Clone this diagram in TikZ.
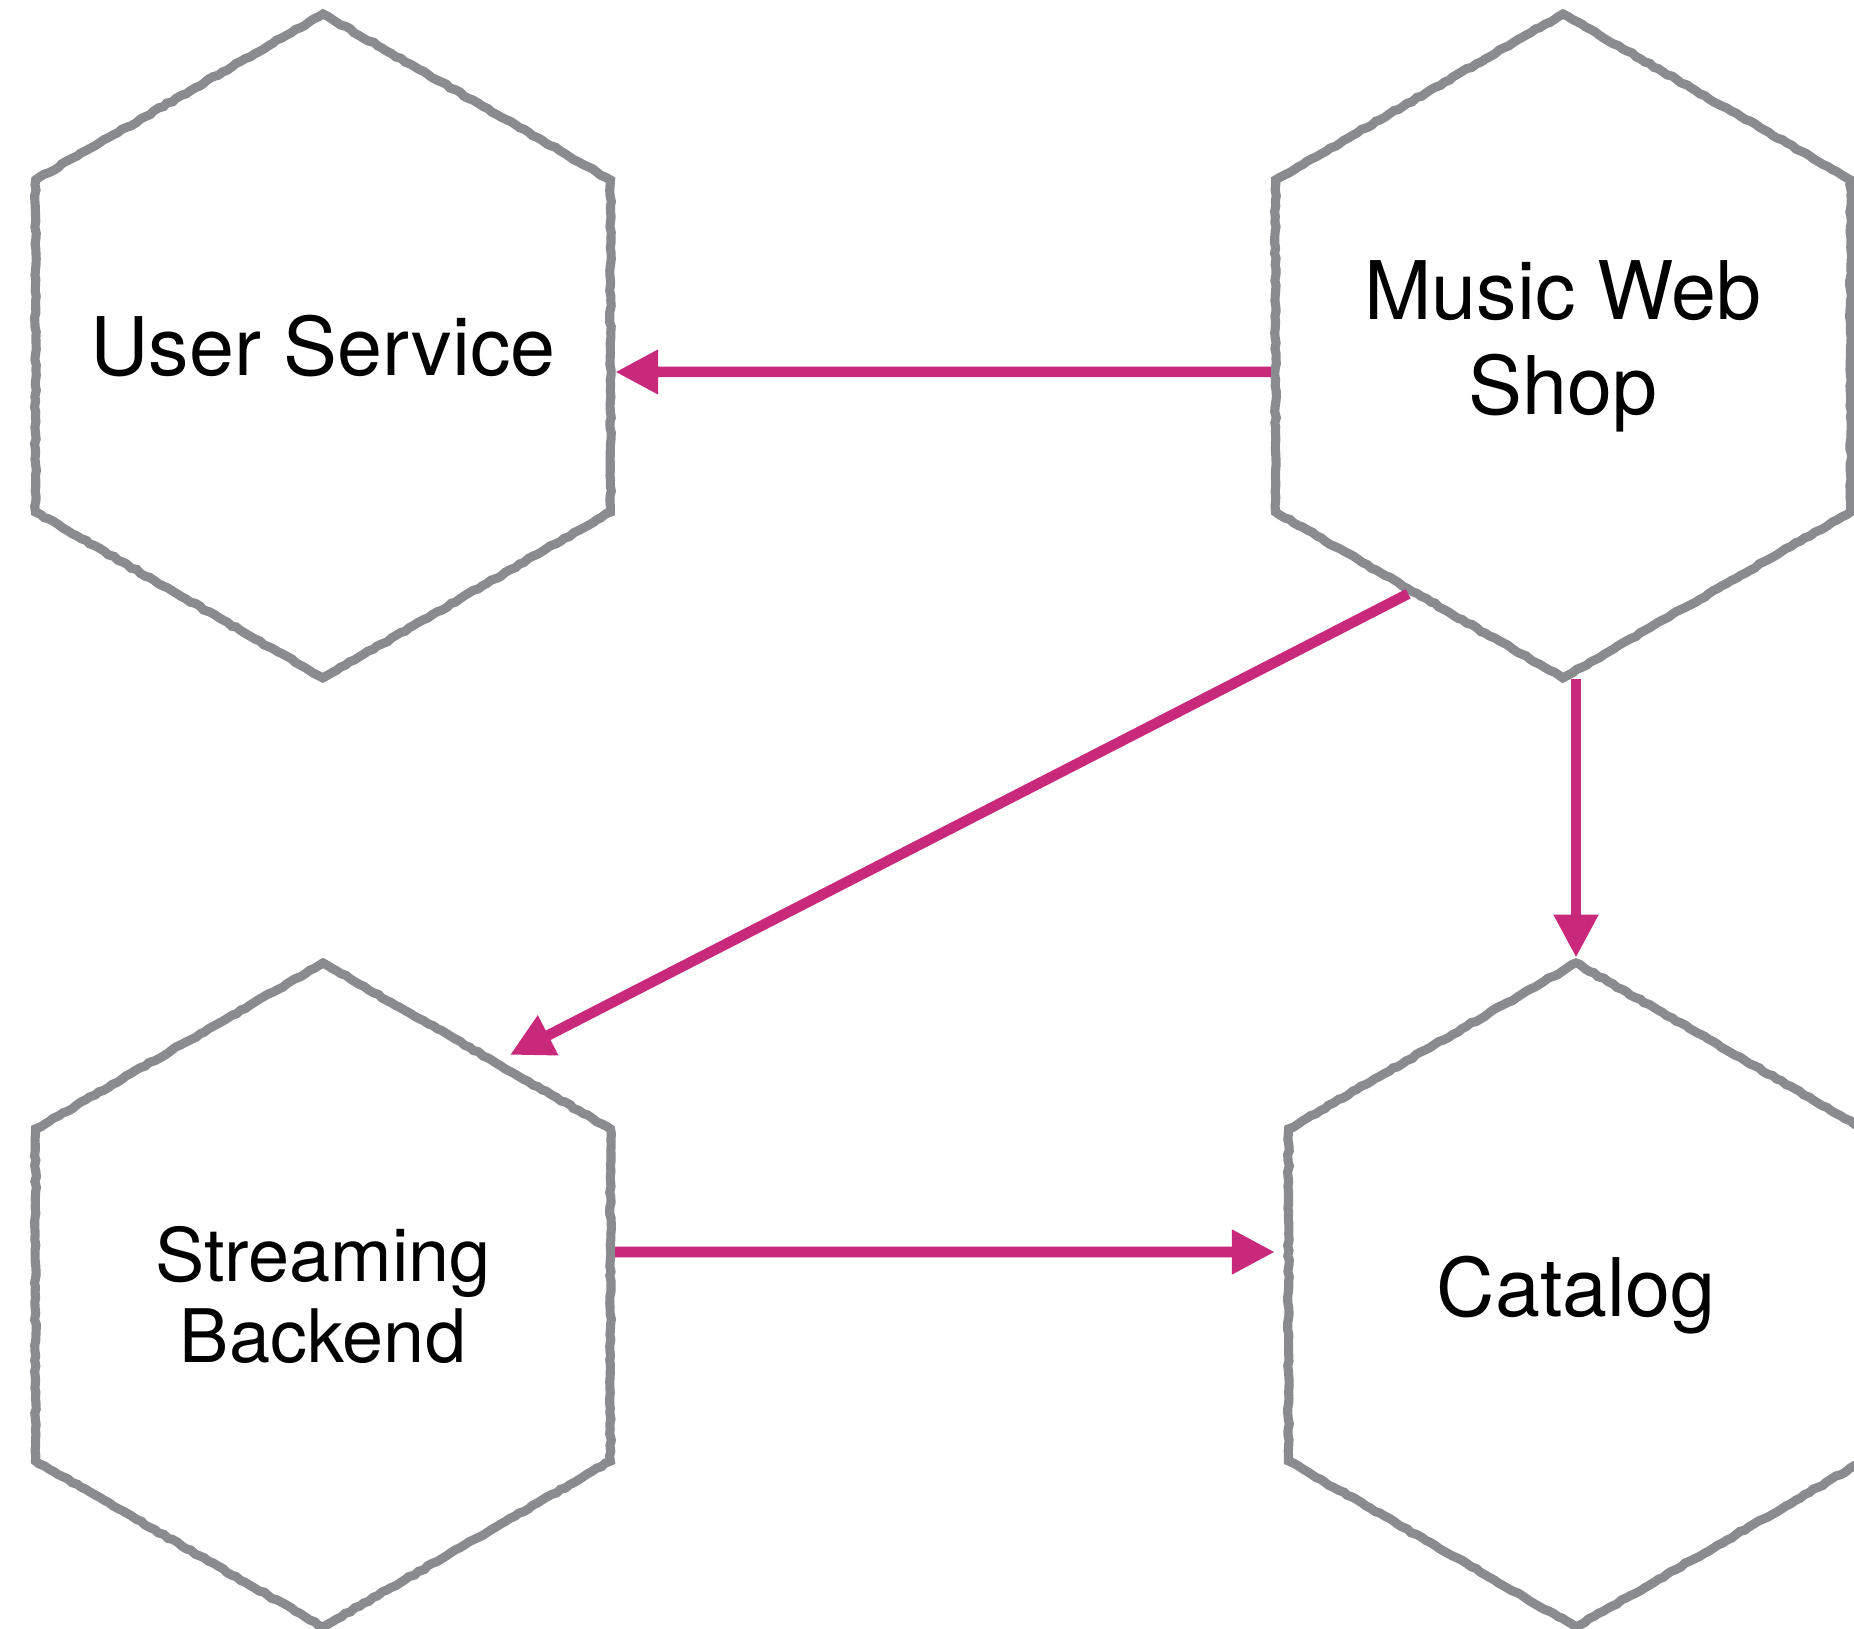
\documentclass[tikz,border=0pt]{standalone}
\usepackage{fontspec}
\setmainfont{TeX Gyre Heros}
\usetikzlibrary{shapes.geometric,arrows.meta,decorations.pathmorphing}
\definecolor{hexgray}{RGB}{137,139,142}
\definecolor{callpink}{RGB}{201,41,123}

\begin{document}
\begin{tikzpicture}[
service/.style={regular polygon,regular polygon sides=6,shape border rotate=30,
  minimum size=6.64cm,inner sep=-0.7cm,draw=hexgray,line width=2.6pt,align=center,
  font=\fontsize{23}{27}\selectfont,
  decorate,decoration={random steps,segment length=1.5pt,amplitude=0.25pt}},
call/.style={draw=callpink,line width=3pt,-{Triangle[length=0.43cm,width=0.42cm]}}
]
\useasboundingbox (0,0) rectangle (18.54,16.28);
\pgfmathsetseed{7}
\node[service] (user) at (3.23,12.82) {User Service};
\node[service] (shop) at (15.63,12.82) {Music Web\\Shop};
\node[service,font=\fontsize{21}{23}\selectfont] (stream) at (3.23,3.33) {Streaming\\Backend};
\node[service] (catalog) at (15.76,3.33) {Catalog};
% calls
\draw[call] ([yshift=-0.26cm]shop.west) -- ([yshift=-0.26cm]user.east);
\draw[call,shorten >=0.11cm] (shop.238) -- (stream.53);
\draw[call] ([yshift=0.04cm]shop.south -| catalog.north) -- (catalog.north);
\draw[call] ([yshift=0.43cm]stream.east) -- ([yshift=0.43cm,xshift=-0.09cm]catalog.west);
\end{tikzpicture}
\end{document}
